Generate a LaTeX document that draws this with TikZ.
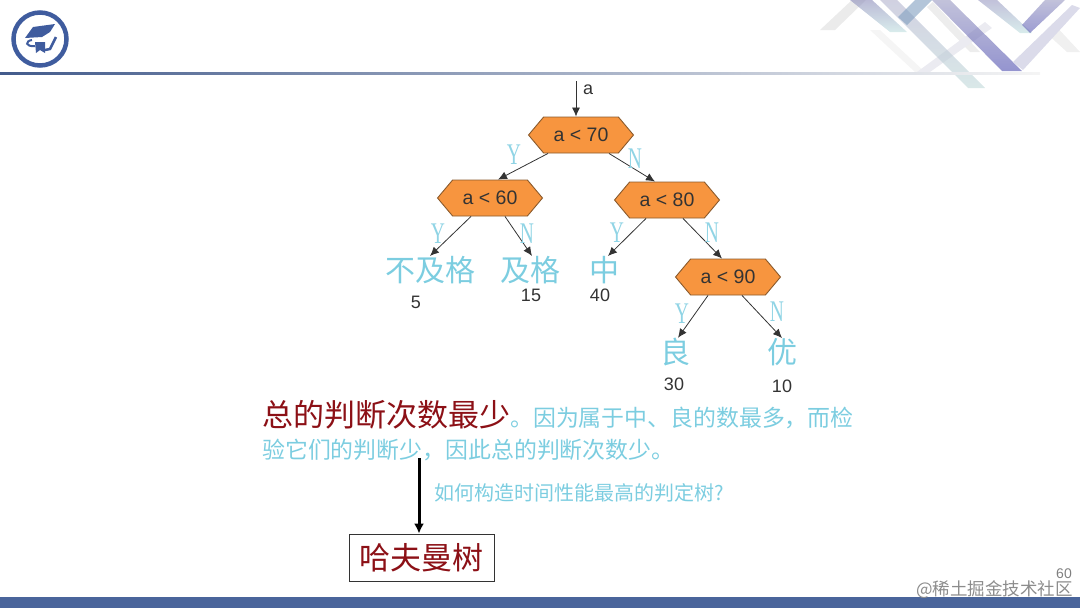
\documentclass[tikz,border=0pt]{standalone}
\usepackage{fontspec}
\usetikzlibrary{arrows.meta,shapes.symbols}
\setmainfont{Liberation Sans}
\newfontfamily\cjk{Noto Sans CJK SC}
\newfontfamily\ynfont[FakeStretch=0.65]{Liberation Serif}
\newcommand{\widecomma}{\symbol{"FF0C}}
\definecolor{slideblue}{HTML}{4A659B}
\definecolor{logoblue}{HTML}{3F5C9E}
\definecolor{hexorange}{HTML}{F7953F}
\definecolor{hexedge}{HTML}{8A5A2C}
\definecolor{softcyan}{HTML}{7CCDE0}
\definecolor{deepred}{HTML}{8C1016}
\tikzset{
  decision/.style={shape=signal, signal to=east and west, signal pointer angle=100,
    draw=hexedge, fill=hexorange, line width=.9pt, minimum width=105pt, minimum height=36pt,
    inner sep=0pt, text=black!80, font=\fontsize{19.5}{19.5}\selectfont},
  leaf/.style={inner sep=0pt, text=softcyan, font=\cjk\fontsize{30}{30}\selectfont},
  yn/.style={inner sep=0pt, text=softcyan!85, font=\ynfont\fontsize{30}{30}\selectfont},
  count/.style={inner sep=0pt, text=black!80, font=\fontsize{18}{18}\selectfont},
  branch/.style={-{Latex[length=9pt,width=8pt]}, line width=.8pt, black!80},
  ribbon/.style={opacity=.6, draw=none},
}
\begin{document}
\begin{tikzpicture}[x=1pt,y=-1pt]
    \useasboundingbox (0,0) rectangle (1080,608);

    % Ribbons in the top right corner
    \fill[black!8] (820,30) -- (835,30) -- (866,0) -- (852,0) -- cycle;
    \fill[black!7] (927,7) -- (970,52) -- (980,52) -- (933,2) -- cycle;
    \fill[black!6] (1053,23) -- (1080,52) -- (1067,52) -- (1045,32) -- cycle;
    \fill[black!4] (870,30) -- (915,72) -- (925,72) -- (880,30) -- cycle;
    \fill[blue!30!black!8] (917,72) -- (985,22) -- (992,28) -- (930,72) -- cycle;
    \shade[ribbon, top color=blue!35!black!30, bottom color=cyan!40!black!25] (880,0) -- (897,0) -- (985,88) -- (968,88) -- cycle;
    \shade[ribbon, top color=blue!40!black!45, bottom color=cyan!50!black!25] (850,0) -- (872,0) -- (907,32) -- (890,32) -- cycle;
    \fill[ribbon, blue!50!cyan!50!black!50] (898,17) -- (915,0) -- (932,0) -- (907,25) -- cycle;
    \shade[ribbon, top color=blue!40!black!40, bottom color=blue!55!black!70] (932,0) -- (950,0) -- (1022,71) -- (1002,71) -- cycle;
    \shade[ribbon, top color=blue!40!black!40, bottom color=cyan!50!black!25] (978,0) -- (997,0) -- (1032,33) -- (1020,33) -- cycle;
    \shade[ribbon, top color=blue!40!black!40, bottom color=blue!55!black!65] (1045,0) -- (1065,0) -- (1030,33) -- (1022,25) -- cycle;
    \fill[blue!40!black!14] (1013,62) -- (1023,70) -- (1080,8) -- (1072,5) -- cycle;

    % Header line and footer bar
    \shade[left color=slideblue!90!black, right color=black!4] (0,72) rectangle (1040,74);
    \fill[slideblue] (0,597) rectangle (1080,608);

    % Logo
    \draw[logoblue, line width=4.5pt] (40,39) circle (26.5);
    \fill[logoblue] (25,38) -- (33,27) -- (55,24) -- (50,32) -- (42,37) -- cycle;
    \fill[logoblue] (35,42) -- (45,42) -- (45,53) -- (40,50) -- (36,53) -- cycle;
    \draw[logoblue, line width=2pt] (32,40) .. controls (25,41) and (25,47) .. (35,46);
    \draw[logoblue, line width=2.5pt] (45,50) -- (50,49) -- (56,37);

    % Decision nodes
    \node[decision] (a70) at (581,135) {a < 70};
    \node[decision] (a60) at (490,198) {a < 60};
    \node[decision] (a80) at (667,200) {a < 80};
    \node[decision] (a90) at (728,277) {a < 90};

    % Grade leaves
    \node[leaf] (fail) at (430,270) {不及格};
    \node[leaf] (pass) at (530,270) {及格};
    \node[leaf] (mid) at (604,270) {中};
    \node[leaf] (good) at (675,352) {良};
    \node[leaf] (best) at (782,352) {优};

    % Counts under the leaves
    \node[count] (n5) at (416,302) {5};
    \node[count] (n15) at (531,295) {15};
    \node[count] (n40) at (600,295) {40};
    \node[count] (n30) at (674,384) {30};
    \node[count] (n10) at (782,386) {10};

    % Input arrow
    \coordinate (input) at (576,81);
    \draw[branch] (input) -- ([xshift=-5pt]a70.north);
    \node[count, anchor=west] (inlabel) at (583,90) {a};

    % Branches
    \draw[branch] ([xshift=-33pt]a70.south) -- ([xshift=8pt]a60.north);
    \draw[branch] ([xshift=28pt]a70.south) -- ([xshift=-12pt]a80.north);
    \draw[branch] ([xshift=-19pt]a60.south) -- (fail.north);
    \draw[branch] ([xshift=15pt]a60.south) -- ([xshift=2pt]pass.north);
    \draw[branch] ([xshift=-21pt]a80.south) -- ([xshift=4pt]mid.north);
    \draw[branch] ([xshift=16pt]a80.south) -- ([xshift=-6pt]a90.north);
    \draw[branch] ([xshift=-20pt]a90.south) -- ([xshift=3pt]good.north);
    \draw[branch] ([xshift=14pt]a90.south) -- (best.north);

    % Y and N marks
    \node[yn] (y1) at (514,155) {Y};
    \node[yn] (n1) at (635,159) {N};
    \node[yn] (y2) at (438,234) {Y};
    \node[yn] (n2) at (527,234) {N};
    \node[yn] (y3) at (617,233) {Y};
    \node[yn] (n3) at (712,233) {N};
    \node[yn] (y4) at (682,314) {Y};
    \node[yn] (n4) at (777,312) {N};

    % Conclusion text
    \node[anchor=base west, inner sep=0pt, align=left, text=softcyan, font=\cjk\fontsize{22.9}{31.5}\selectfont] (summary) at (262,458)
      {{\color{deepred}\fontsize{31}{31.5}\selectfont 总的判断次数最少}。因为属于中、良的数最多\widecomma 而检\\验它们的判断少\widecomma 因此总的判断次数少。};
    \node[anchor=west, inner sep=0pt, text=softcyan, font=\cjk\fontsize{20}{20}\selectfont] (question) at (434,493) {如何构造时间性能最高的判定树?};

    % Huffman box
    \node[draw=black!80, line width=.8pt, minimum width=145pt, minimum height=47pt, inner sep=0pt, text=deepred, font=\cjk\fontsize{31}{31}\selectfont] (huffman) at (421.5,557.5) {哈夫曼树};
    \coordinate (drop) at (419,458);
    \draw[-{Latex[length=10pt,width=10pt]}, line width=3pt] (drop) -- (huffman.north -| drop);

    % Page number and watermark
    \node[anchor=east, inner sep=0pt, text=black!50, font=\fontsize{14}{14}\selectfont] (page) at (1072,574) {60};
    \node[anchor=east, inner sep=0pt, text=black!45, font=\cjk\fontsize{17.5}{18}\selectfont] (mark) at (1073,590) {@稀土掘金技术社区};
\end{tikzpicture}
\end{document}
